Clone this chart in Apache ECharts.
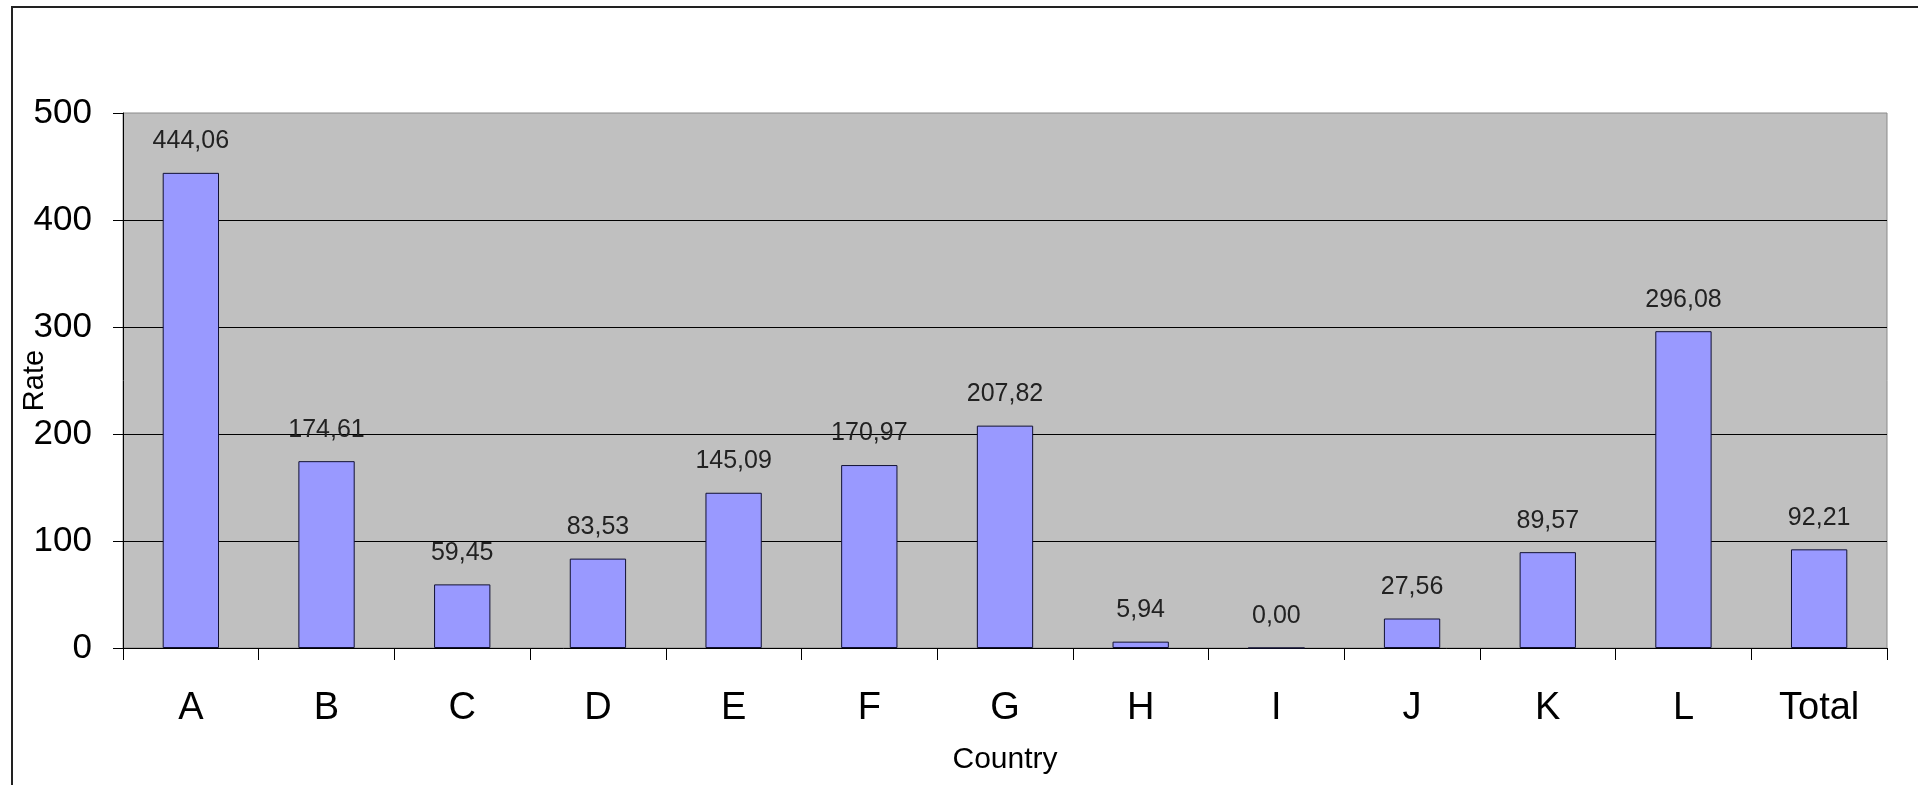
<!DOCTYPE html>
<html>
<head>
<meta charset="utf-8">
<title>Rate by Country</title>
<script src="https://cdn.jsdelivr.net/npm/echarts@6/dist/echarts.min.js"></script>
<style>
  html, body { margin: 0; padding: 0; background: #ffffff; }
  #chart { width: 1918px; height: 785px; }
</style>
</head>
<body>
<div id="chart"></div>
<script>
// Categories and rates (decimal comma used for the value labels)
const countries = ['A', 'B', 'C', 'D', 'E', 'F', 'G', 'H', 'I', 'J', 'K', 'L', 'Total'];
const rates = [444.06, 174.61, 59.45, 83.53, 145.09, 170.97, 207.82, 5.94, 0.00, 27.56, 89.57, 296.08, 92.21];
const yTicks = { min: 0, max: 500, interval: 100 };

const fontFamily = '"Liberation Sans", Arial, sans-serif';
const chart = echarts.init(document.getElementById('chart'), null, { renderer: 'canvas' });

chart.setOption({
  animation: false,
  backgroundColor: '#ffffff',
  graphic: [{
    type: 'rect',
    silent: true,
    z: -10,
    shape: { x: 12, y: 7, width: 2000, height: 1000 },
    style: { fill: 'none', stroke: '#222222', lineWidth: 2 }
  }],
  grid: {
    left: 123, top: 113, right: 31, bottom: 137,
    show: true,
    backgroundColor: '#C0C0C0',
    borderColor: '#8a8a8a',
    borderWidth: 1,
    containLabel: false,
    outerBoundsMode: 'none'
  },
  xAxis: {
    type: 'category',
    data: countries,
    name: 'Country',
    nameLocation: 'middle',
    nameGap: 97,
    nameMoveOverlap: false,
    nameTextStyle: { fontFamily, fontSize: 30, color: '#000' },
    axisLine: { show: true, lineStyle: { color: '#000', width: 1 } },
    axisTick: { show: true, length: 12, lineStyle: { color: '#000' } },
    axisLabel: { fontFamily, fontSize: 38, color: '#000', margin: 42 },
    splitLine: { show: false }
  },
  yAxis: {
    type: 'value',
    min: yTicks.min,
    max: yTicks.max,
    interval: yTicks.interval,
    name: 'Rate',
    nameLocation: 'middle',
    nameGap: 74,
    nameMoveOverlap: false,
    nameTextStyle: { fontFamily, fontSize: 29, color: '#000' },
    axisLine: { show: true, lineStyle: { color: '#000', width: 1 } },
    axisTick: { show: true, length: 10, lineStyle: { color: '#000' } },
    axisLabel: { fontFamily, fontSize: 35, color: '#000', margin: 31 },
    splitLine: { show: true, showMinLine: false, showMaxLine: false, lineStyle: { color: '#000', width: 1 } }
  },
  series: [{
    type: 'bar',
    data: rates,
    barWidth: '41.5%',
    itemStyle: { color: '#9999FF', borderColor: '#111133', borderWidth: 1 },
    label: {
      show: true,
      position: 'top',
      distance: 19,
      fontFamily,
      fontSize: 25,
      color: '#222',
      formatter: p => p.value.toFixed(2).replace('.', ',')
    }
  }]
});
</script>
</body>
</html>
